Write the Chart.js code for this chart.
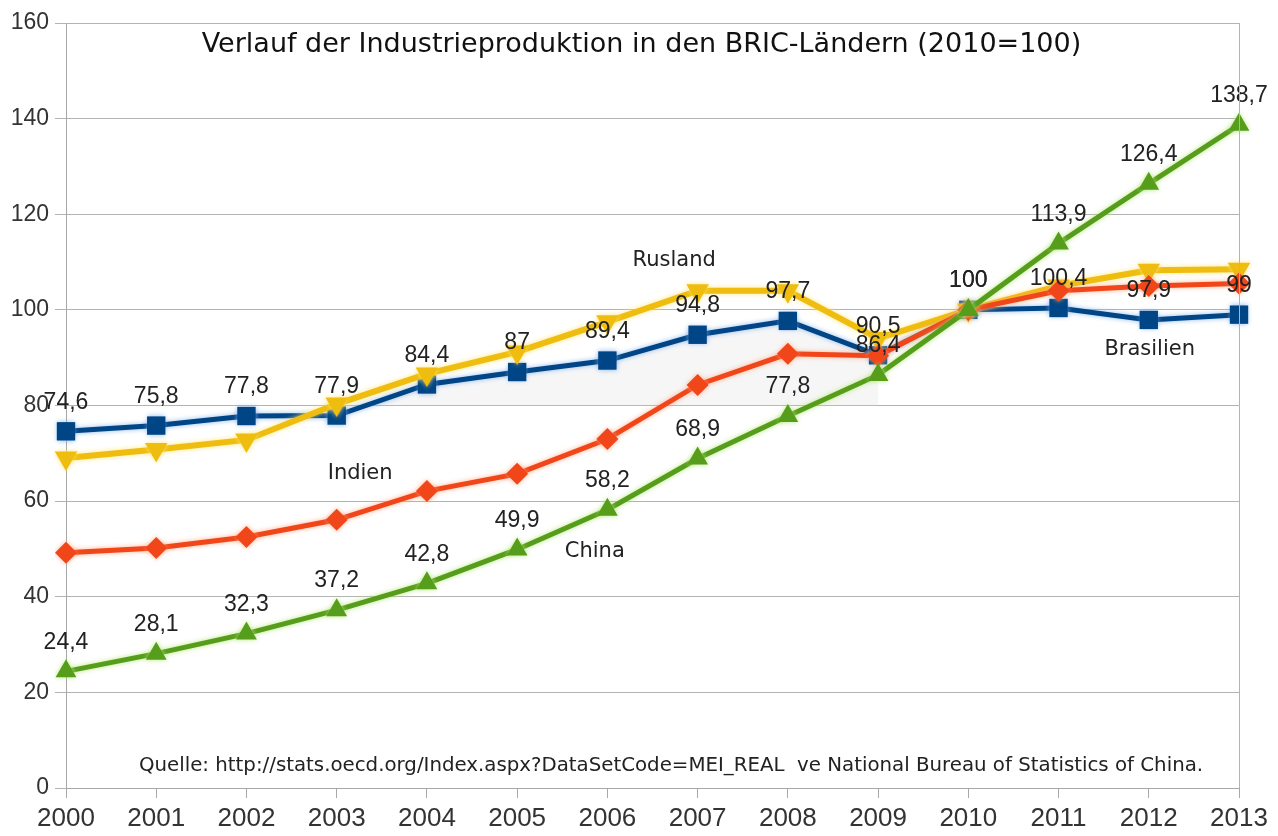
<!DOCTYPE html>
<html>
<head>
<meta charset="utf-8">
<script src="https://cdn.jsdelivr.net/npm/chart.js@4/dist/chart.umd.min.js"></script>
<style>
  html, body { margin: 0; padding: 0; background: #ffffff; }
  #wrap { width: 1278px; height: 836px; }
</style>
</head>
<body>
<div id="wrap"><canvas id="c" width="1278" height="836"></canvas></div>
<script>
// ---- Data ----
const years = ['2000','2001','2002','2003','2004','2005','2006','2007','2008','2009','2010','2011','2012','2013'];
const brasilien = [74.6, 75.8, 77.8, 77.9, 84.4, 87, 89.4, 94.8, 97.7, 90.5, 100, 100.4, 97.9, 99];
const russland  = [69.0, 70.8, 72.8, 80.3, 86.6, 91.2, 97.5, 104.0, 104.0, 94.0, 100, 105.0, 108.3, 108.5];
const indien    = [49.2, 50.2, 52.5, 56.1, 62.1, 65.7, 73.0, 84.3, 90.8, 90.4, 100, 104.0, 105.0, 105.5];
const china     = [24.4, 28.1, 32.3, 37.2, 42.8, 49.9, 58.2, 68.9, 77.8, 86.4, 100, 113.9, 126.4, 138.7];
const yTicks = { min: 0, max: 160, step: 20 };

const titleText = 'Verlauf der Industrieproduktion in den BRIC-Ländern (2010=100)';
const sourceText = 'Quelle: http://stats.oecd.org/Index.aspx?DataSetCode=MEI_REAL  ve National Bureau of Statistics of China.';
// series name annotations, anchored in data coordinates (category index, value)
const seriesNotes = [
  { text: 'Rusland',   at: [6.74, 110.4] },
  { text: 'Indien',    at: [3.26, 65.7] },
  { text: 'China',     at: [5.86, 49.4] },
  { text: 'Brasilien', at: [12.01, 91.6] }
];

const fmt = v => String(v).replace('.', ',');

const glowPlugin = {
  id: 'glow',
  beforeDatasetDraw(chart, args) {
    const ds = chart.data.datasets[args.index];
    chart.ctx.save();
    if (ds.glow) {
      chart.ctx.shadowColor = ds.glow;
      chart.ctx.shadowBlur = 5;
    }
  },
  afterDatasetDraw(chart) {
    chart.ctx.restore();
  }
};

const valueLabels = {
  id: 'valueLabels',
  afterDatasetsDraw(chart) {
    const ctx = chart.ctx;
    ctx.save();
    ctx.font = '23px "Liberation Sans", Arial, sans-serif';
    ctx.fillStyle = '#222';
    ctx.textAlign = 'center';
    ctx.textBaseline = 'middle';
    chart.data.datasets.forEach((ds, i) => {
      if (!ds.showValues) return;
      const meta = chart.getDatasetMeta(i);
      meta.data.forEach((pt, j) => {
        ctx.fillText(fmt(ds.data[j]), pt.x, pt.y - 29);
      });
    });
    ctx.restore();
  }
};

const textLayer = {
  id: 'textLayer',
  afterDraw(chart) {
    const ctx = chart.ctx;
    const a = chart.chartArea;
    const ys = chart.scales.y;
    ctx.save();
    // right border of plot area
    ctx.strokeStyle = '#b3b3b3';
    ctx.lineWidth = 1;
    ctx.beginPath();
    ctx.moveTo(Math.round(a.right) + 0.5, a.top);
    ctx.lineTo(Math.round(a.right) + 0.5, a.bottom);
    ctx.stroke();
    // title
    ctx.fillStyle = '#111';
    ctx.textAlign = 'center';
    ctx.textBaseline = 'middle';
    ctx.font = '27px "DejaVu Sans", sans-serif';
    ctx.fillText(titleText, (a.left + a.right) / 2 - 11, a.top + 22);
    // series names
    ctx.fillStyle = '#222';
    ctx.font = '21px "DejaVu Sans", sans-serif';
    seriesNotes.forEach(n => {
      const px = a.left + (a.right - a.left) * n.at[0] / (years.length - 1);
      ctx.fillText(n.text, px, ys.getPixelForValue(n.at[1]));
    });
    // source
    ctx.font = '19.8px "DejaVu Sans", sans-serif';
    ctx.fillStyle = '#222';
    ctx.fillText(sourceText, 671, a.bottom - 22);
    ctx.restore();
  }
};

new Chart(document.getElementById('c'), {
  type: 'line',
  data: {
    labels: years,
    datasets: [
      {
        label: 'Brasilien', data: brasilien, order: 3,
        borderColor: '#004586', backgroundColor: '#004586', borderWidth: 5,
        pointStyle: 'rect', pointRadius: 13, pointHoverRadius: 13, pointBorderWidth: 0,
        glow: 'rgba(120,170,235,0.8)', showValues: true, fill: false
      },
      {
        label: 'Rusland', data: russland, order: 2,
        borderColor: '#efbd0f', backgroundColor: '#efbd0f', borderWidth: 6,
        pointStyle: 'triangle', pointRotation: 180, pointRadius: 13, pointHoverRadius: 13, pointBorderWidth: 0,
        glow: 'rgba(255,228,120,0.9)', fill: false
      },
      {
        label: 'Indien', data: indien, order: 1,
        borderColor: '#f0461a', backgroundColor: '#f0461a', borderWidth: 5,
        pointStyle: 'rectRot', pointRadius: 11, pointHoverRadius: 11, pointBorderWidth: 0,
        glow: 'rgba(255,160,120,0.8)', fill: false
      },
      {
        label: 'China', data: china, order: 0,
        borderColor: '#579d1c', backgroundColor: '#579d1c', borderWidth: 5,
        pointStyle: 'triangle', pointRadius: 12, pointHoverRadius: 12, pointBorderWidth: 0,
        glow: 'rgba(180,230,120,0.9)', showValues: true, fill: false
      },
      {
        label: 'shade', data: brasilien.map((v, i) => (i >= 3 && i <= 9 ? v : null)), order: 10,
        borderWidth: 0, pointRadius: 0, borderColor: 'rgba(0,0,0,0)',
        fill: { target: { value: 80 }, above: 'rgba(232,232,232,0.4)', below: 'rgba(0,0,0,0)' }
      }
    ]
  },
  options: {
    responsive: false,
    animation: false,
    layout: { padding: { top: 23, right: 39, left: 0, bottom: 0 } },
    elements: { line: { tension: 0 } },
    plugins: {
      legend: { display: false },
      tooltip: { enabled: false },
      title: { display: false },
      filler: { drawTime: 'beforeDatasetsDraw' }
    },
    scales: {
      x: {
        ticks: { color: '#333', font: { family: 'Liberation Sans', size: 26 }, padding: 5, maxRotation: 0, autoSkip: false },
        grid: { drawOnChartArea: false, color: '#a8a8a8', tickLength: 10 },
        border: { color: '#a8a8a8' },
        afterFit(s) { s.height = 48; }
      },
      y: {
        min: yTicks.min, max: yTicks.max,
        ticks: { stepSize: yTicks.step, color: '#333', font: { family: 'Liberation Sans', size: 23 }, padding: 6 },
        grid: { color: '#b3b3b3', tickLength: 11 },
        border: { color: '#a8a8a8' },
        afterFit(s) { s.width = 66; }
      }
    }
  },
  plugins: [glowPlugin, valueLabels, textLayer]
});
</script>
</body>
</html>
